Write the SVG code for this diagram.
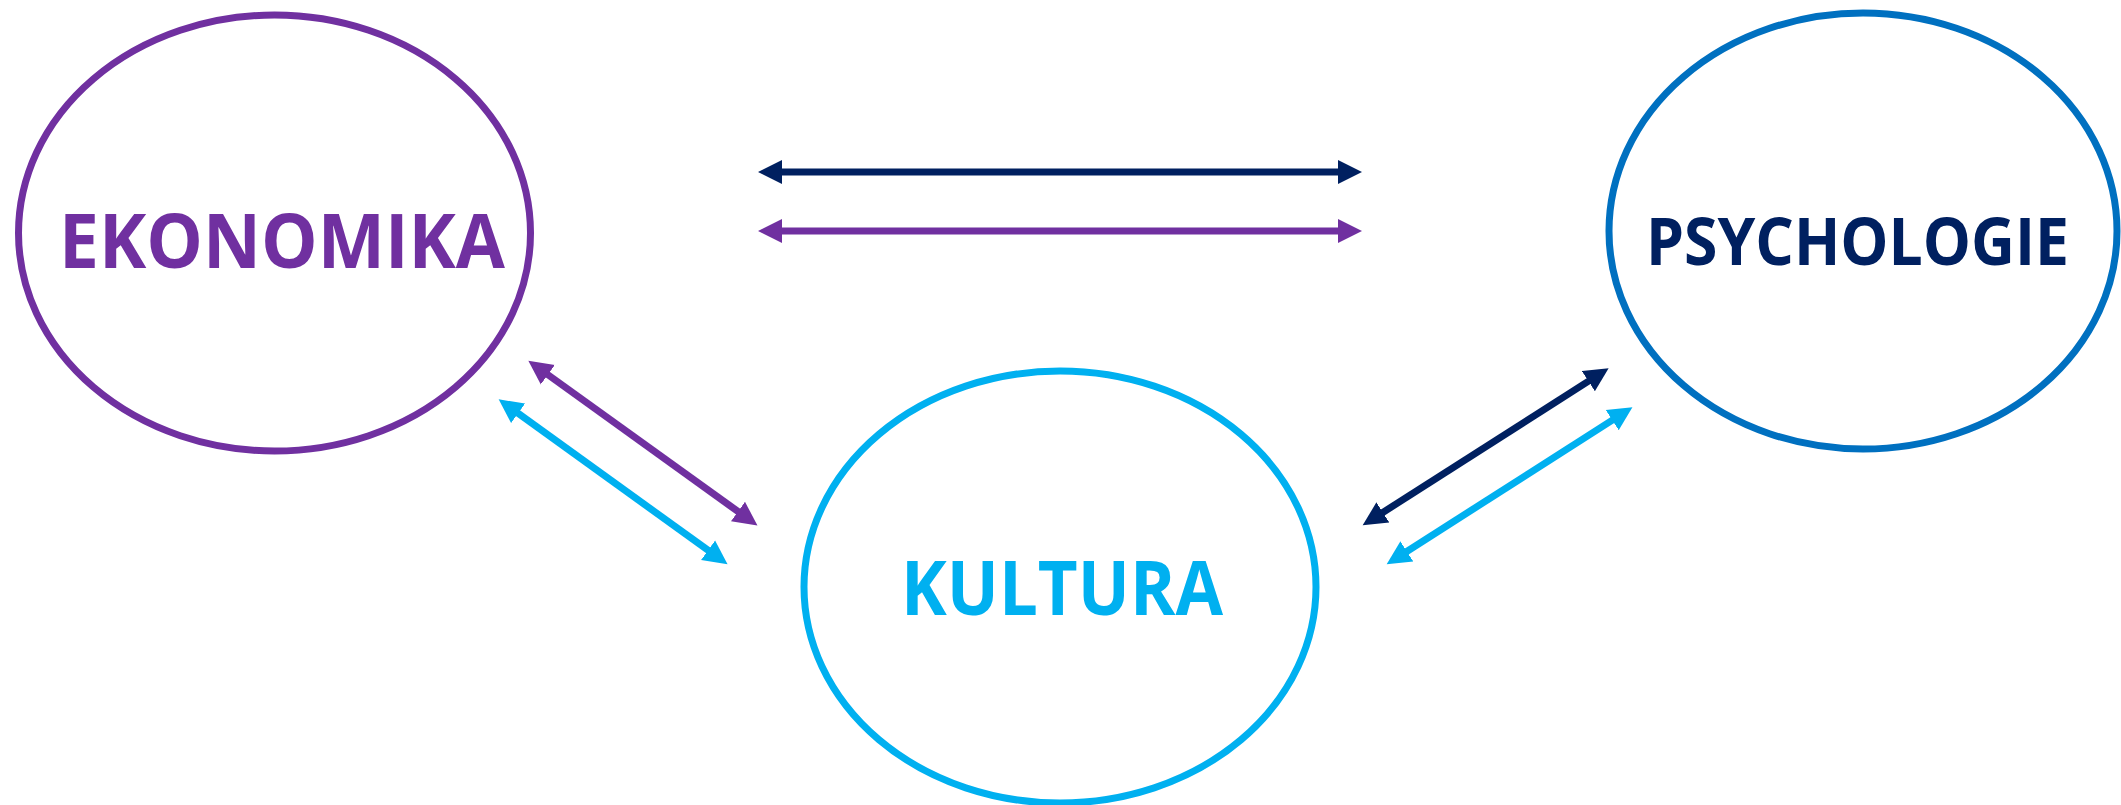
<svg xmlns="http://www.w3.org/2000/svg" width="2121" height="805" viewBox="0 0 2121 805">
<style>
.node{fill:#ffffff;stroke-width:7}
.lbl{font-family:"Open Sans","Noto Sans","Liberation Sans",sans-serif;font-weight:700}
.con{stroke-width:7;fill:none}
</style>
<defs>
<marker id="hPurple" markerUnits="userSpaceOnUse" markerWidth="26" markerHeight="26" viewBox="0 -13 26 26" refX="2" refY="0" orient="auto-start-reverse"><path d="M0,-12 L24,0 L0,12 z" fill="#7030A0"/></marker>
<marker id="hNavy" markerUnits="userSpaceOnUse" markerWidth="26" markerHeight="26" viewBox="0 -13 26 26" refX="2" refY="0" orient="auto-start-reverse"><path d="M0,-12 L24,0 L0,12 z" fill="#002060"/></marker>
<marker id="hCyan" markerUnits="userSpaceOnUse" markerWidth="26" markerHeight="26" viewBox="0 -13 26 26" refX="2" refY="0" orient="auto-start-reverse"><path d="M0,-12 L24,0 L0,12 z" fill="#00B0F0"/></marker>
</defs>
<rect width="2121" height="805" fill="#ffffff"/>
<g id="ekonomika">
<ellipse class="node" cx="274.5" cy="233" rx="256" ry="218" stroke="#7030A0"/>
<text class="lbl" x="59" y="268" font-size="75" fill="#7030A0" textLength="446" lengthAdjust="spacingAndGlyphs">EKONOMIKA</text>
</g>
<g id="psychologie">
<ellipse class="node" cx="1863" cy="231" rx="254" ry="218" stroke="#0070C0"/>
<text class="lbl" x="1646" y="265" font-size="67" fill="#002060" textLength="423" lengthAdjust="spacingAndGlyphs">PSYCHOLOGIE</text>
</g>
<g id="kultura">
<ellipse class="node" cx="1060" cy="587" rx="256" ry="216" stroke="#00B0F0"/>
<text class="lbl" x="901" y="615" font-size="75" fill="#00B0F0" textLength="322" lengthAdjust="spacingAndGlyphs">KULTURA</text>
</g>
<g id="connectors">
<line class="con" x1="780" y1="172" x2="1340" y2="172" stroke="#002060" marker-start="url(#hNavy)" marker-end="url(#hNavy)"/>
<line class="con" x1="780" y1="231" x2="1340" y2="231" stroke="#7030A0" marker-start="url(#hPurple)" marker-end="url(#hPurple)"/>
<line class="con" x1="546.2" y1="373.5" x2="739.6" y2="512.7" stroke="#7030A0" marker-start="url(#hPurple)" marker-end="url(#hPurple)"/>
<line class="con" x1="516.5" y1="412.2" x2="709.7" y2="551.4" stroke="#00B0F0" marker-start="url(#hCyan)" marker-end="url(#hCyan)"/>
<line class="con" x1="1381.2" y1="513.5" x2="1590.1" y2="380.1" stroke="#002060" marker-start="url(#hNavy)" marker-end="url(#hNavy)"/>
<line class="con" x1="1405.2" y1="552.5" x2="1613.9" y2="419.1" stroke="#00B0F0" marker-start="url(#hCyan)" marker-end="url(#hCyan)"/>
</g>
</svg>
